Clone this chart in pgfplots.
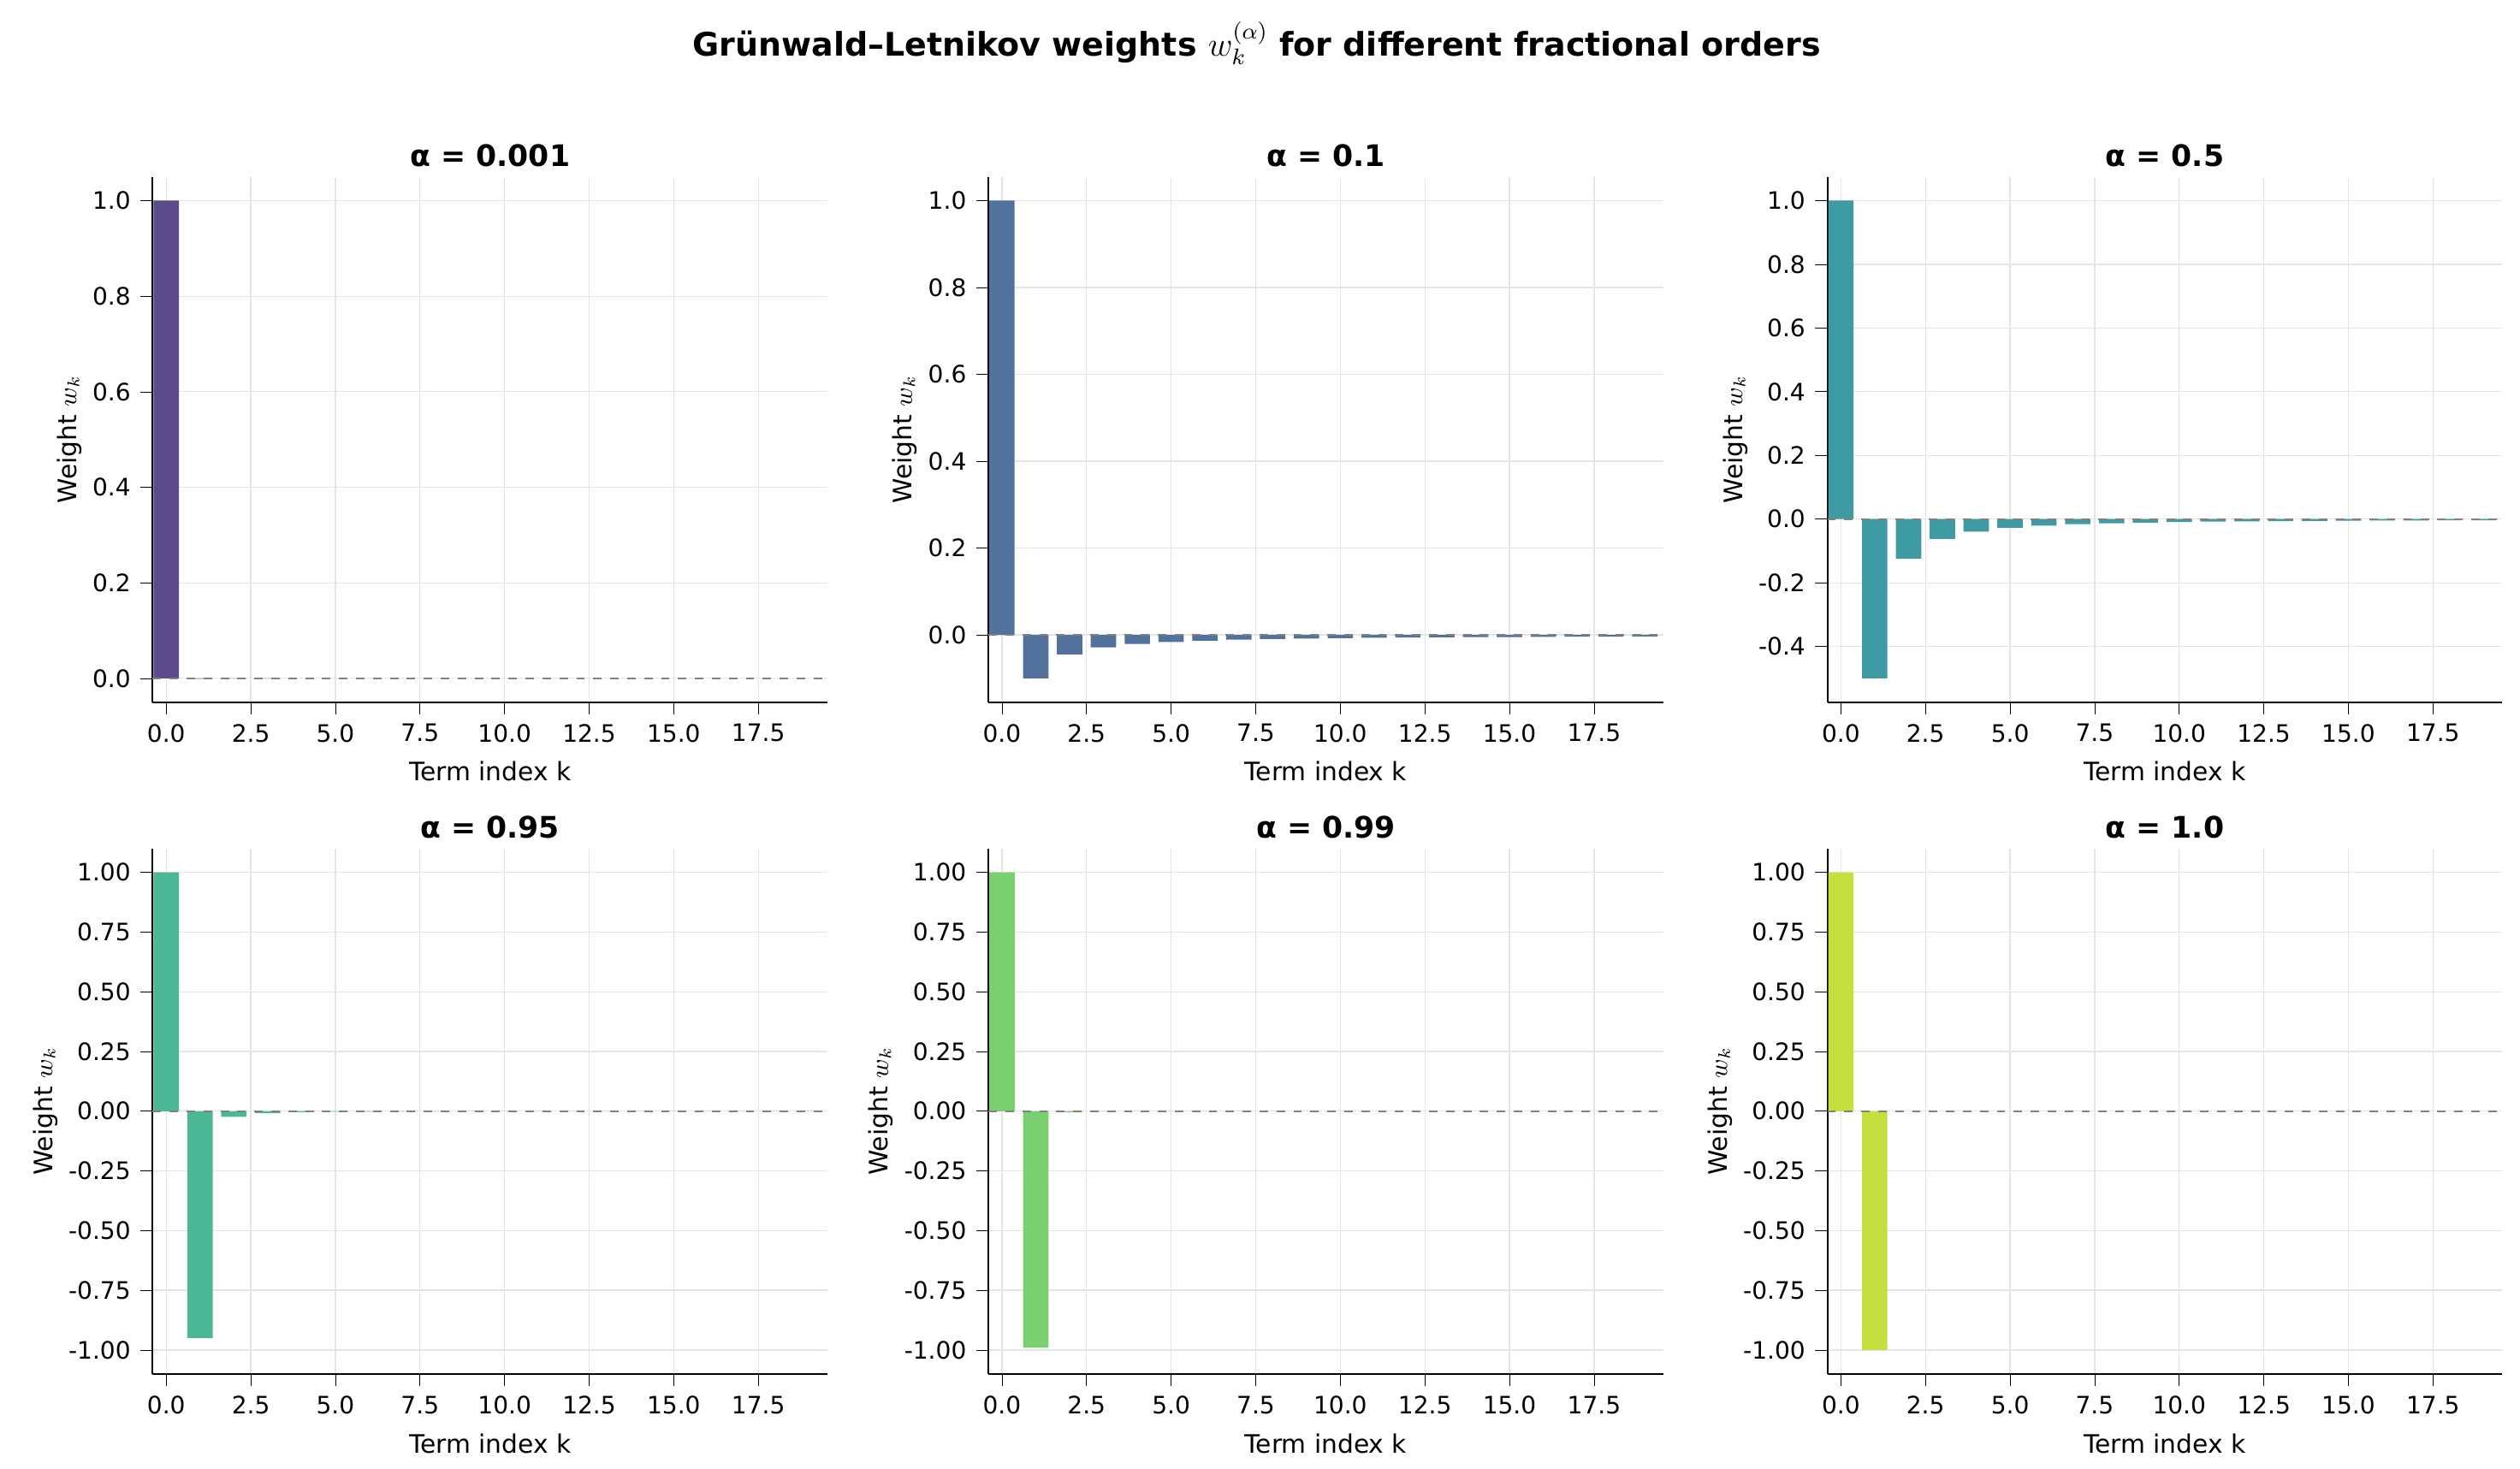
\documentclass[border=0pt]{standalone}
\usepackage{pgfplots}
\pgfplotsset{compat=1.18}
\usepackage{fontspec}
\setmainfont{DejaVu Sans}
\definecolor{c1}{HTML}{5B4B8A}
\definecolor{c2}{HTML}{52719C}
\definecolor{c3}{HTML}{3E9BA3}
\definecolor{c4}{HTML}{4BB795}
\definecolor{c5}{HTML}{7ACF6E}
\definecolor{c6}{HTML}{C5E03E}
\pgfplotsset{
 gl/.style={
  scale only axis, width=8.4cm, height=6.54cm,
  axis lines=left, axis line style={-,line width=0.6pt},
  xmin=-0.4, xmax=19.55,
  xtick={0,2.5,...,17.5},
  grid=major, grid style={gray!20,line width=0.4pt},
  tick style={black}, tick align=outside,
  /pgf/number format/assume math mode=true,
  xticklabel style={/pgf/number format/.cd,fixed,fixed zerofill,precision=1},
  tick label style={font=\fontsize{8.5}{10}\selectfont},
  label style={font=\fontsize{9}{11}\selectfont},
  title style={font=\bfseries\fontsize{10.5}{12}\selectfont, yshift=-6pt},
  xlabel={Term index k}, ylabel={Weight $w_k$},
  xlabel style={yshift=0pt}, ylabel style={yshift=-3pt},
  ybar, bar width=0.75, bar shift=0pt,
  every axis plot/.append style={draw=none},
  clip=false,
 },
 top/.style={yticklabel style={/pgf/number format/.cd,fixed,fixed zerofill,precision=1}},
 bot/.style={ymin=-1.1,ymax=1.1,ytick={-1,-0.75,...,1},yticklabel style={/pgf/number format/.cd,fixed,fixed zerofill,precision=2}},
}
\newcommand\zeroline{\addplot[sharp plot,no marks,draw=gray,dashed,line width=0.5pt] coordinates {(-0.4,0) (19.55,0)};}
\begin{document}
\begin{tikzpicture}
\path (0,0) rectangle (31.36,18.28);
\node at (15.64,17.74) {\bfseries\fontsize{11.5}{13}\selectfont Grünwald–Letnikov weights $w_k^{(\alpha)}$ for different fractional orders};
\begin{axis}[gl,top,at={(1.9cm,9.54cm)},ymin=-0.05,ymax=1.05,ytick={0,0.2,...,1},title={α = 0.001}]
\addplot[fill=c1] coordinates {(0,1) (1,-0.001) (2,-0.0005) (3,-0.0003)};
\zeroline
\end{axis}
\begin{axis}[gl,top,at={(12.3cm,9.54cm)},ymin=-0.155,ymax=1.055,ytick={0,0.2,...,1},title={α = 0.1}]
\addplot[fill=c2] coordinates {(0,1) (1,-0.1) (2,-0.045) (3,-0.0285) (4,-0.02066) (5,-0.01612) (6,-0.01316) (7,-0.0111) (8,-0.00957) (9,-0.0084) (10,-0.00748) (11,-0.00673) (12,-0.00611) (13,-0.0056) (14,-0.00516) (15,-0.00478) (16,-0.00445) (17,-0.00416) (18,-0.00391) (19,-0.00368)};
\zeroline
\end{axis}
\begin{axis}[gl,top,at={(22.74cm,9.54cm)},ymin=-0.575,ymax=1.075,ytick={-0.4,-0.2,...,1},title={α = 0.5}]
\addplot[fill=c3] coordinates {(0,1) (1,-0.5) (2,-0.125) (3,-0.0625) (4,-0.03906) (5,-0.02734) (6,-0.02051) (7,-0.01611) (8,-0.01309) (9,-0.01091) (10,-0.00927) (11,-0.00801) (12,-0.00701) (13,-0.0062) (14,-0.00553) (15,-0.00498) (16,-0.00452) (17,-0.00412) (18,-0.00377) (19,-0.00348)};
\zeroline
\end{axis}
\begin{axis}[gl,bot,at={(1.9cm,1.18cm)},title={α = 0.95}]
\addplot[fill=c4] coordinates {(0,1) (1,-0.95) (2,-0.02375) (3,-0.00831) (4,-0.00426) (5,-0.0026) (6,-0.00175) (7,-0.00127) (8,-0.00096) (9,-0.00075) (10,-0.0006) (11,-0.0005) (12,-0.00042) (13,-0.00035) (14,-0.0003) (15,-0.00026) (16,-0.00023) (17,-0.0002) (18,-0.00018) (19,-0.00016)};
\zeroline
\end{axis}
\begin{axis}[gl,bot,at={(12.3cm,1.18cm)},title={α = 0.99}]
\addplot[fill=c5] coordinates {(0,1) (1,-0.99) (2,-0.00495) (3,-0.00167) (4,-0.00084) (5,-0.0005) (6,-0.00034) (7,-0.00024) (8,-0.00018) (9,-0.00014) (10,-0.00011)};
\zeroline
\end{axis}
\begin{axis}[gl,bot,at={(22.74cm,1.18cm)},title={α = 1.0}]
\addplot[fill=c6] coordinates {(0,1) (1,-1)};
\zeroline
\end{axis}
\end{tikzpicture}
\end{document}
